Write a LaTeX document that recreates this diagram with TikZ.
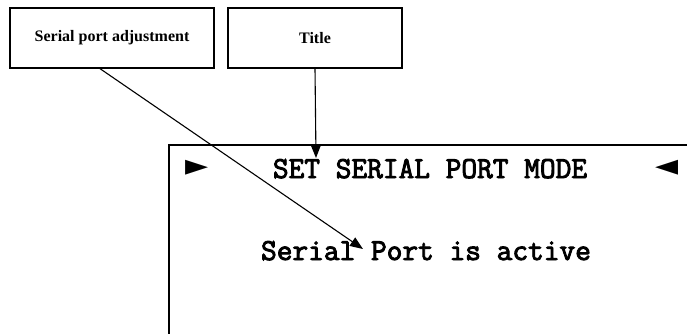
\documentclass[tikz,border=0pt]{standalone}
\usepackage{fontspec}
\setmainfont{Liberation Serif}
\newfontfamily\symfont{DejaVu Sans}
\newfontfamily\lcdfont[FakeBold=3]{Latin Modern Mono}
\usetikzlibrary{calc}
\usetikzlibrary{arrows.meta}
\usetikzlibrary{positioning}
\tikzset{callout/.style={draw, text centered, line width=1.3pt, font=\fontsize{16}{19}\selectfont\bfseries}}
\tikzset{lcdtext/.style={inner sep=0pt, anchor=base, font=\fontsize{30.5}{34}\selectfont\lcdfont}}
\tikzset{pointer/.style={inner sep=0pt, font=\fontsize{30}{34}\selectfont\symfont}}
\tikzset{connect/.style={draw, line width=1.1pt, >={Triangle[length=13pt,width=10pt]}}}
\begin{document}
\begin{tikzpicture}[x=1pt,y=1pt]
\useasboundingbox (0,0) rectangle (687,333);
\clip (0,0) rectangle (687,333);

%callout boxes
\node[callout,rectangle,minimum height=60pt,minimum width=204pt] (adjust) at(112,295) {Serial port adjustment};
\node[callout,rectangle,minimum height=60pt,minimum width=174pt] (title) at(315,295) {Title};

%display
\node[draw,rectangle,line width=1.8pt,minimum height=220pt,minimum width=560pt,anchor=north west] (display) at(168,189) { };

%display lines
\node[lcdtext] (mode) at([xshift=262,yshift=-34]display.north west) {SET SERIAL PORT MODE};
\node[lcdtext] (active) at([xshift=258,yshift=-116]display.north west) {Serial Port is active};
\node[pointer] (left) at([xshift=29,yshift=-24]display.north west) {►};
\node[pointer] (right) at([xshift=499,yshift=-24]display.north west) {◄};

%arrow ends
\coordinate (titletip) at(316,175);
\coordinate (activetip) at(363,84);

%connections
\path[connect,->] (title.south) -- (titletip);
\path[connect,->] ([xshift=-12]adjust.south) -- (activetip);

\end{tikzpicture}
\end{document}
